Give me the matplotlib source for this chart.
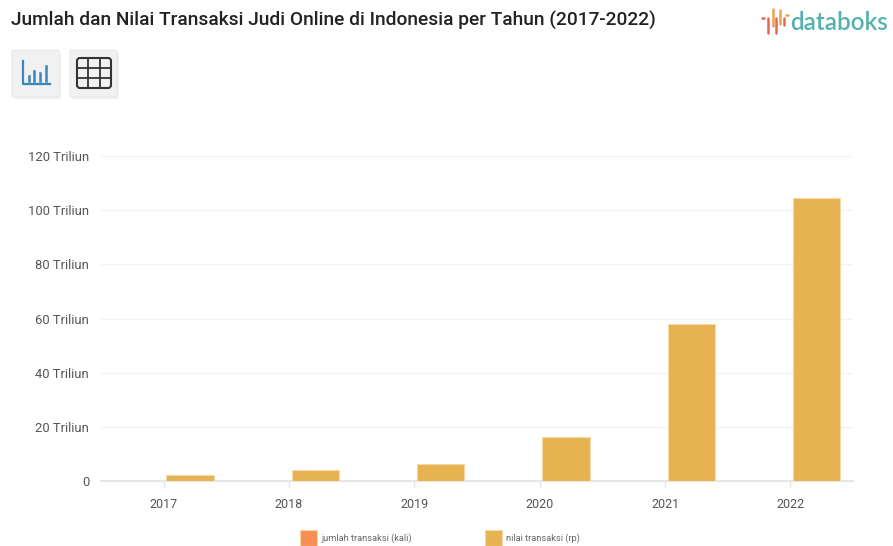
import numpy as np
import matplotlib.pyplot as plt
from matplotlib.patches import FancyBboxPatch, Rectangle

years = ["2017", "2018", "2019", "2020", "2021", "2022"]
jumlah_transaksi = [0, 0, 0, 0, 0, 0]
nilai_transaksi = [2.1, 3.9, 6.2, 16.1, 57.9, 104.5]  # triliun rupiah
y_ticks = [0, 20, 40, 60, 80, 100, 120]
y_labels = ["0", "20 Triliun", "40 Triliun", "60 Triliun", "80 Triliun", "100 Triliun", "120 Triliun"]

W, H = 893, 546
ORANGE = "#F98E52"
GOLD = "#E7B252"
TEAL = "#55B1AD"
RED = "#E5675A"
AMBER = "#EFA04F"

plt.rcParams["font.family"] = ["Roboto", "DejaVu Sans"]

fig = plt.figure(figsize=(W / 100, H / 100), dpi=100, facecolor="white")

# overlay in pixel units for the header furniture and legend
page = fig.add_axes([0, 0, 1, 1])
page.set_xlim(0, W)
page.set_ylim(H, 0)
page.axis("off")

ax = fig.add_axes([101 / W, (H - 481) / H, (853 - 101) / W, (481 - 156) / H])
ax.patch.set_alpha(0)

x = np.arange(len(years))
width = 0.38
offset = 0.02
ax.bar(x + 0.5 - width / 2 + offset, jumlah_transaksi, width, color=ORANGE)
ax.bar(x + 0.5 + width / 2 + offset, nilai_transaksi, width, color=GOLD,
       edgecolor="#F3D9A8", linewidth=0.8, zorder=3)

ax.set_xlim(0, len(years))
ax.set_ylim(0, 120)
ax.set_xticks(x + 0.5)
ax.set_xticklabels(years)
ax.set_yticks(y_ticks)
ax.set_yticklabels(y_labels)
ax.tick_params(axis="x", length=5, width=1, color="#E6E6E6", pad=7, labelsize=9, labelcolor="#555555")
ax.tick_params(axis="y", length=0, pad=8.6, labelsize=9.4, labelcolor="#555555")
ax.grid(axis="y", color="#F3F3F3", linewidth=1)
ax.set_axisbelow(True)
for side in ["top", "right", "left"]:
    ax.spines[side].set_visible(False)
ax.spines["bottom"].set_color("#E6E6E6")
ax.spines["bottom"].set_linewidth(1.5)

# title
page.text(11, 20, "Jumlah dan Nilai Transaksi Judi Online di Indonesia per Tahun (2017-2022)",
          fontsize=13.8, color="#222222", va="center", ha="left", fontweight="medium")

# logo
page.text(790, 23, "databoks", fontsize=17.5, color=TEAL, va="center", ha="left",
          family="Lato", fontweight="semibold")
for lx, y0, y1, c in [(768, 18, 33, RED), (773, 9, 26, AMBER), (776, 18, 33, RED),
                      (780, 10, 24, AMBER), (784, 18, 25, RED)]:
    page.plot([lx, lx], [y0, y1], color=c, lw=1.8, solid_capstyle="round")
page.plot([762, 764], [18, 18], color=RED, lw=1.8, solid_capstyle="round")
page.plot([786, 788], [15, 15], color=AMBER, lw=1.8, solid_capstyle="round")

# chart / table buttons
for bx in [12, 70]:
    page.add_patch(FancyBboxPatch((bx + 2, 52), 47, 47, boxstyle="round,pad=0,rounding_size=2",
                                  fc="#EAEAEA", ec="none", alpha=0.7))
    page.add_patch(FancyBboxPatch((bx, 50), 47, 47, boxstyle="round,pad=0,rounding_size=2",
                                  fc="#F1F1F1", ec="#E8E8E8", lw=0.8))

BLUE = "#3B86BE"
page.plot([23, 23, 50], [61, 84, 84], color=BLUE, lw=1.6)
for bar_x, top in [(29, 76), (34, 71), (40, 73), (46, 66)]:
    page.plot([bar_x, bar_x], [top, 81], color=BLUE, lw=1.8)

page.add_patch(FancyBboxPatch((77, 58), 34, 30, boxstyle="round,pad=0,rounding_size=3",
                              fc="none", ec="#333333", lw=1.5))
for gx in [88, 100]:
    page.plot([gx, gx], [58, 88], color="#333333", lw=1.3)
for gy in [68, 78]:
    page.plot([77, 111], [gy, gy], color="#333333", lw=1.3)

# legend
for sx, label, c in [(299.5, "jumlah transaksi (kali)", ORANGE), (484.5, "nilai transaksi (rp)", GOLD)]:
    page.add_patch(Rectangle((sx, 530), 17, 16, fc=c, ec="#F3D9A8", lw=0.8))
    page.text(sx + 21.5, 538.5, label, fontsize=6.7, color="#666666", va="center", ha="left")

fig.savefig("out.png", dpi=100)
